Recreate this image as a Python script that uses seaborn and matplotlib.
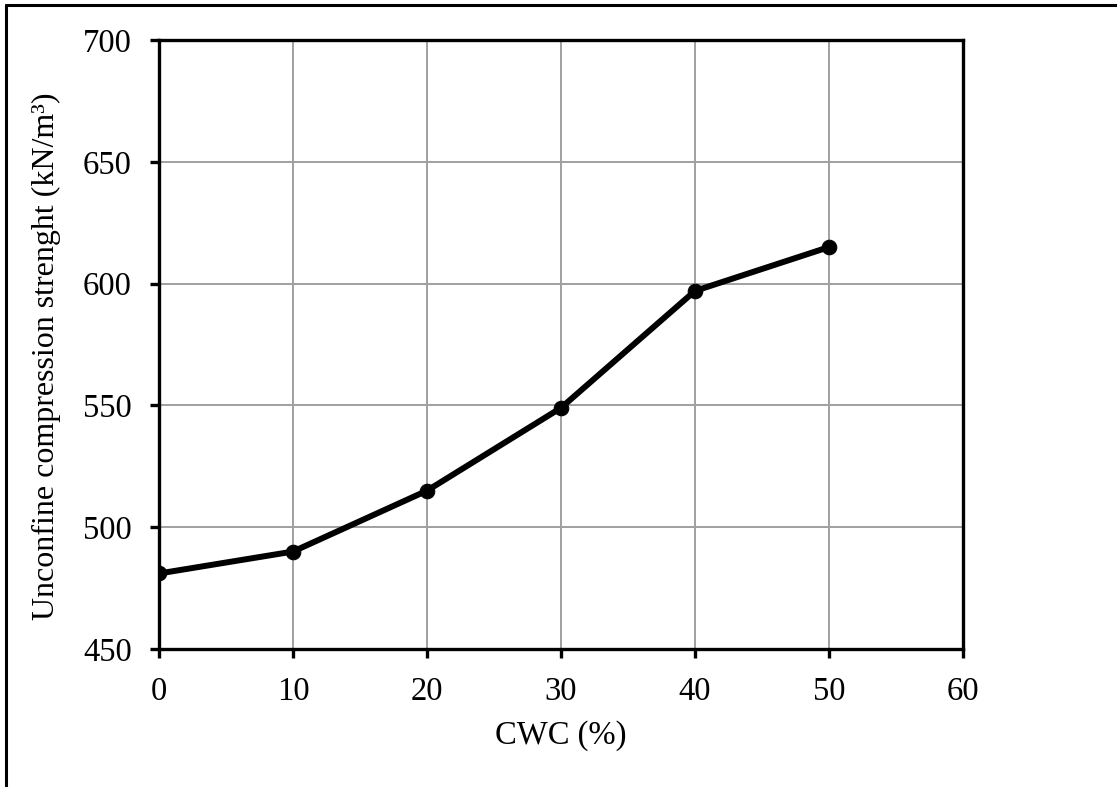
import matplotlib
matplotlib.use("Agg")
import matplotlib.pyplot as plt
from matplotlib.lines import Line2D
import seaborn as sns
import pandas as pd

# CWC content (%) and unconfined compression strength
cwc = [0, 10, 20, 30, 40, 50]
strength = [481, 490, 515, 549, 597, 615]
x_ticks = [0, 10, 20, 30, 40, 50, 60]
y_ticks = [450, 500, 550, 600, 650, 700]

sns.set_theme(style="white")
plt.rcParams["font.family"] = ["Liberation Serif", "DejaVu Serif"]

W, H = 1117, 787
fig = plt.figure(figsize=(W / 100, H / 100), dpi=100)
ax = fig.add_axes([159 / W, 1 - 649 / H, (963 - 159) / W, (649 - 40) / H])

df = pd.DataFrame({"CWC": cwc, "UCS": strength})
sns.lineplot(data=df, x="CWC", y="UCS", ax=ax, color="black", linewidth=4.3,
             marker="o", markersize=10.5, markeredgecolor="black", zorder=3)

ax.set_xlim(0, 60)
ax.set_ylim(450, 700)
ax.set_xticks(x_ticks)
ax.set_yticks(y_ticks)
ax.grid(True, color="#a0a0a0", linewidth=1.4)
ax.set_axisbelow(True)
for s in ax.spines.values():
    s.set_visible(True)
    s.set_color("black")
    s.set_linewidth(2.4)
ax.tick_params(axis="both", direction="out", length=6.5, width=2.4, color="black",
               labelsize=23.5, labelcolor="black", left=True, bottom=True)
ax.tick_params(axis="x", pad=13)
ax.tick_params(axis="y", pad=13)

ax.set_xlabel("CWC (%)", fontsize=23.5, color="black", labelpad=10)
ax.set_ylabel("Unconfine compression strenght (kN/m³)", fontsize=23,
              color="black")
ax.yaxis.set_label_coords(-0.1215, 0.48)

# outer frame (left and top edges)
fig.add_artist(Line2D([6 / W, 6 / W], [0, 1 - 5 / H], color="black", linewidth=2.2))
fig.add_artist(Line2D([6 / W, 1], [1 - 5 / H, 1 - 5 / H], color="black", linewidth=2.2))

fig.savefig("out.png", dpi=100, facecolor="white")
